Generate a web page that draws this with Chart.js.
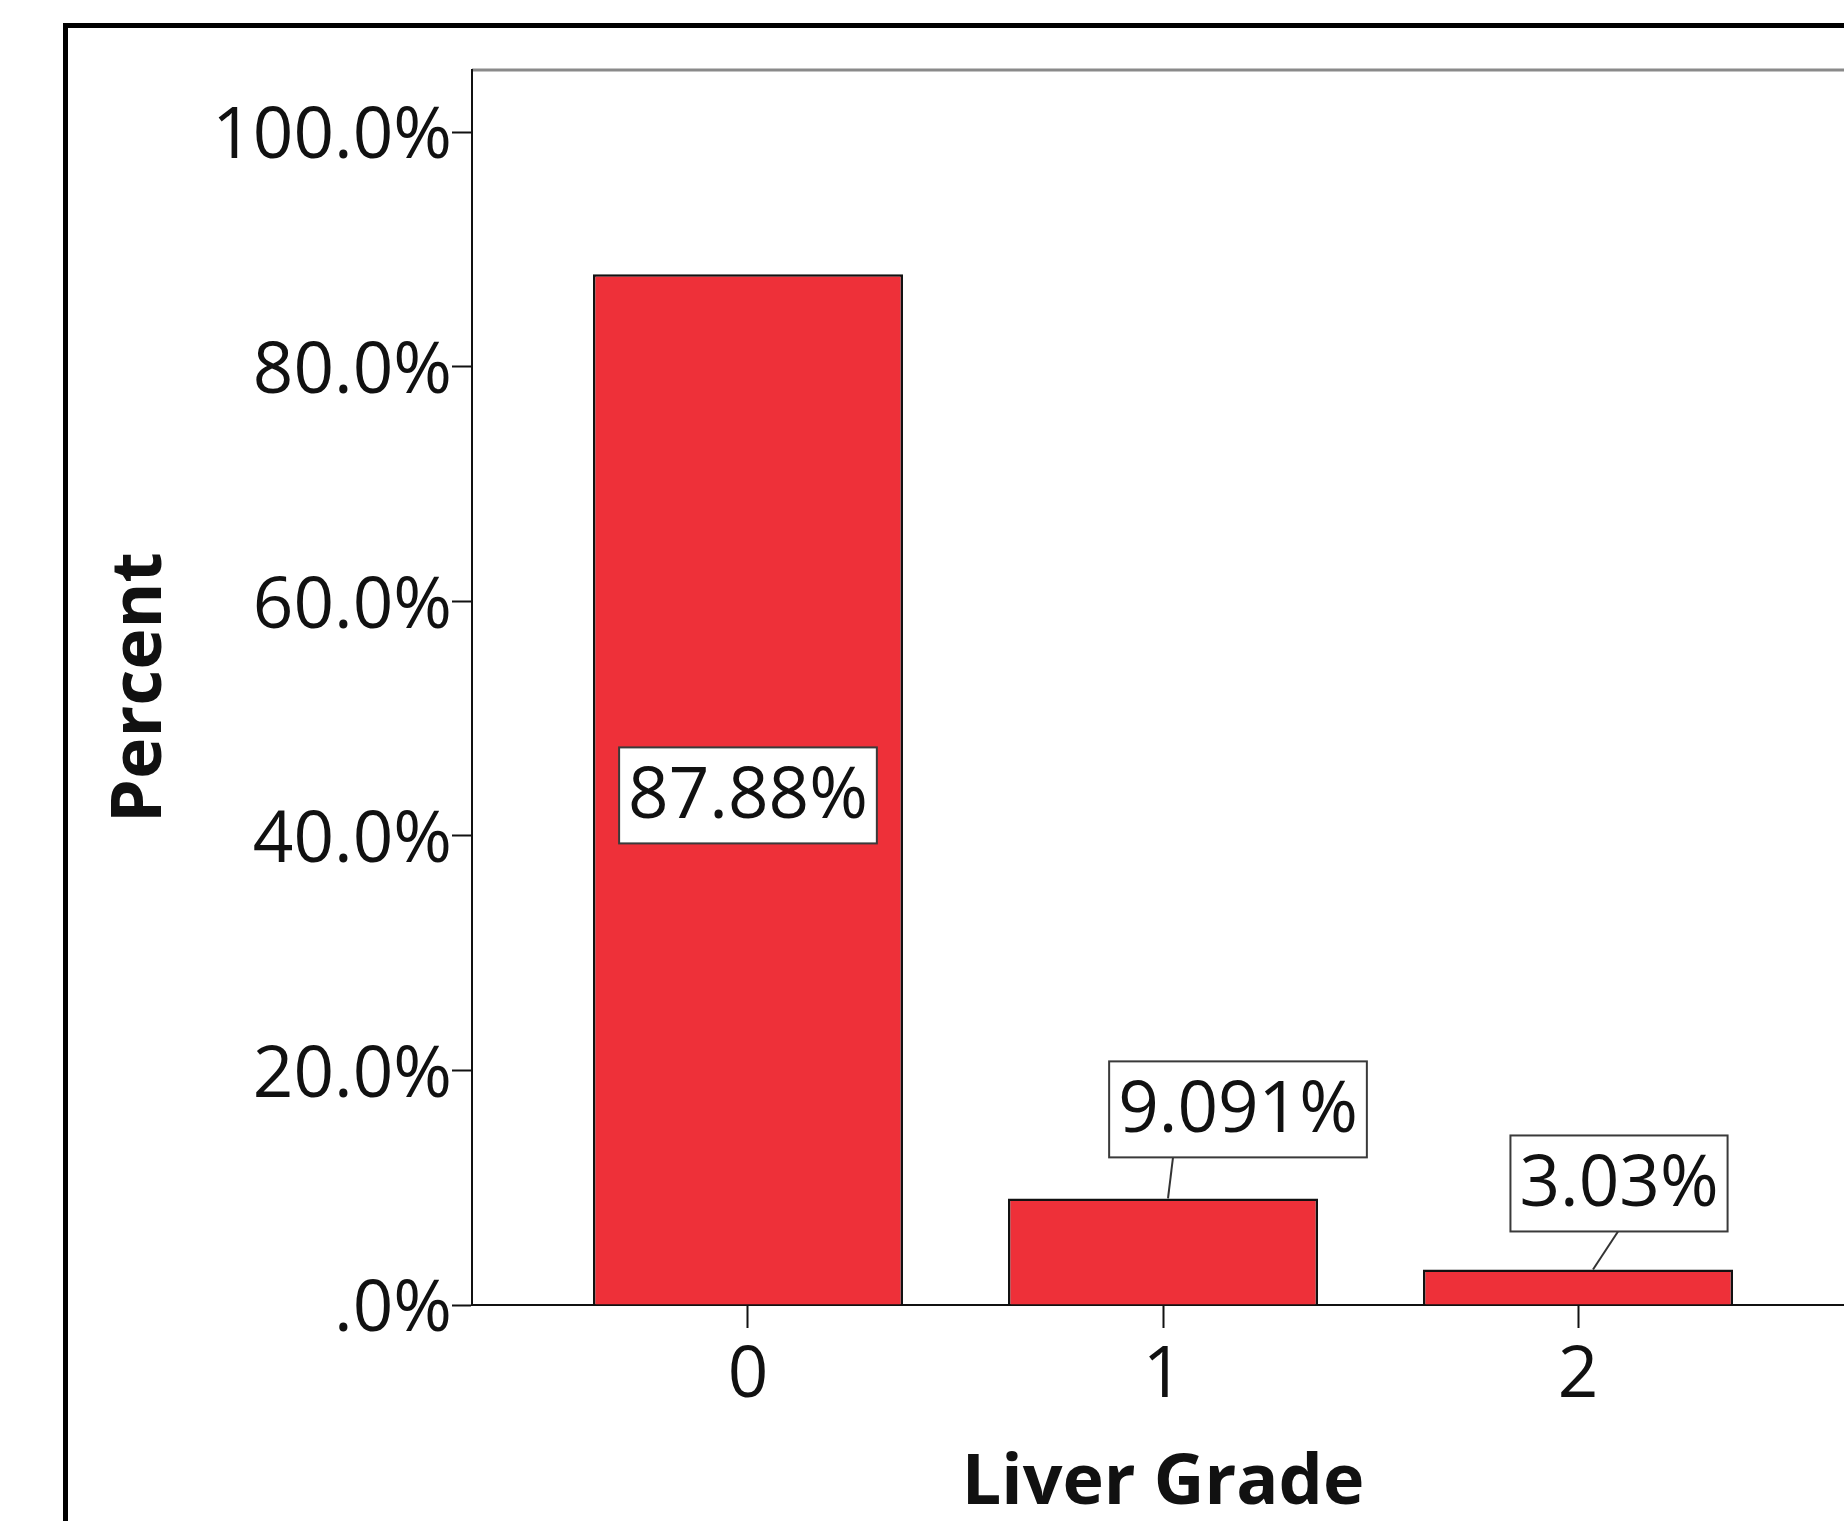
<!DOCTYPE html>
<html lang="en">
<head>
  <meta charset="UTF-8">
  <title>Liver Grade</title>
  <script src="https://cdn.jsdelivr.net/npm/chart.js"></script>
  <style>
    html, body { margin: 0; padding: 0; overflow: hidden; background: #fff; }
    #wrap { width: 1920px; height: 1521px; }
  </style>
</head>
<body>
  <div id="wrap"><canvas id="gradeChart"></canvas></div>
  <script>
    // data
    const grades = [0, 1, 2];
    const gradeLabels = ['0', '1', '2'];
    const percents = [87.88, 9.091, 3.03];
    const yTicks = [0, 20, 40, 60, 80, 100];
    const yTickLabels = ['.0%', '20.0%', '40.0%', '60.0%', '80.0%', '100.0%'];

    const pctLabels = percents.map(v => parseFloat(v.toPrecision(4)) + '%');
    const FONT = '"Open Sans", "Liberation Sans", sans-serif';

    // outer frame + grey top/right edge of plot area
    const frame = {
      id: 'frame',
      beforeDraw(chart) {
        const ctx = chart.ctx, a = chart.chartArea;
        ctx.save();
        ctx.fillStyle = '#fff';
        ctx.fillRect(0, 0, chart.width, chart.height);
        ctx.strokeStyle = '#000';
        ctx.lineWidth = 5;
        ctx.strokeRect(65.5, 25.5, 1830, 1600);
        ctx.strokeStyle = '#8a8a8a';
        ctx.lineWidth = 3;
        ctx.beginPath();
        ctx.moveTo(a.left, a.top);
        ctx.lineTo(a.right, a.top);
        ctx.lineTo(a.right, a.bottom);
        ctx.stroke();
        ctx.restore();
      }
    };

    // boxed value labels with leader lines
    const boxLabels = {
      id: 'boxLabels',
      afterDatasetsDraw(chart, args, opts) {
        const ctx = chart.ctx;
        const bars = chart.getDatasetMeta(0).data;
        ctx.save();
        ctx.font = '71px ' + FONT;
        ctx.textAlign = 'center';
        ctx.textBaseline = 'middle';
        bars.forEach((bar, i) => {
          const p = opts.place[i];
          const text = pctLabels[i];
          const w = ctx.measureText(text).width + 18;
          const h = 96;
          const cx = bar.x + p.dx;
          const cy = p.inside ? (bar.y + bar.base) / 2 + p.dy : bar.y + p.dy;
          if (!p.inside) {
            ctx.strokeStyle = '#333';
            ctx.lineWidth = 2;
            ctx.beginPath();
            ctx.moveTo(bar.x + p.from, cy + h / 2);
            ctx.lineTo(bar.x + p.to, bar.y);
            ctx.stroke();
          }
          ctx.fillStyle = '#fff';
          ctx.fillRect(cx - w / 2, cy - h / 2, w, h);
          ctx.strokeStyle = '#3a3a3a';
          ctx.lineWidth = 2;
          ctx.strokeRect(cx - w / 2, cy - h / 2, w, h);
          ctx.fillStyle = '#111';
          ctx.fillText(text, cx, cy + 2);
        });
        ctx.restore();
      }
    };

    const ctx = document.getElementById('gradeChart').getContext('2d');
    const gradeChart = new Chart(ctx, {
      type: 'bar',
      data: {
        datasets: [{
          label: 'Percent',
          data: grades.map((g, i) => ({ x: g, y: percents[i] })),
          backgroundColor: '#ee3039',
          borderColor: '#111',
          borderWidth: 2.5,
          barPercentage: 0.747,
          categoryPercentage: 1
        }]
      },
      options: {
        responsive: true,
        maintainAspectRatio: false,
        animation: false,
        layout: { padding: { left: 0, right: 66, top: 70, bottom: 0 } },
        plugins: {
          legend: { display: false },
          tooltip: { enabled: false },
          boxLabels: {
            place: [
              { inside: true, dx: 0, dy: 6 },
              { dx: 75, dy: -89, from: 10, to: 5 },
              { dx: 41, dy: -86, from: 40, to: 15 }
            ]
          }
        },
        scales: {
          x: {
            type: 'linear',
            min: -0.665,
            max: 2.665,
            offset: false,
            afterBuildTicks: s => { s.ticks = grades.map(v => ({ value: v })); },
            afterFit: s => { s.height = 216; },
            grid: { offset: false, drawOnChartArea: false, drawTicks: true, tickLength: 23, tickColor: '#111', tickWidth: 2 },
            border: { display: true, color: '#111', width: 2 },
            ticks: {
              callback: v => gradeLabels[grades.indexOf(v)],
              color: '#111',
              font: { family: FONT, size: 71 },
              padding: 6,
              maxRotation: 0,
              autoSkip: false
            },
            title: {
              display: true,
              text: 'Liver Grade',
              color: '#111',
              font: { family: FONT, size: 70, weight: 'bold' },
              padding: { top: 0, bottom: -5 }
            }
          },
          y: {
            min: 0,
            max: 105.3,
            afterBuildTicks: s => { s.ticks = yTicks.map(v => ({ value: v })); },
            afterFit: s => { s.width = 472; },
            grid: { drawOnChartArea: false, drawTicks: true, tickLength: 20, tickColor: '#111', tickWidth: 2 },
            border: { display: true, color: '#111', width: 2 },
            ticks: {
              callback: v => yTickLabels[yTicks.indexOf(v)],
              color: '#111',
              font: { family: FONT, size: 71 },
              padding: 0,
              labelOffset: 6
            },
            title: {
              display: true,
              text: 'Percent',
              color: '#111',
              font: { family: FONT, size: 70, weight: 'bold' },
              padding: { top: 99, bottom: 0 }
            }
          }
        }
      },
      plugins: [frame, boxLabels]
    });
  </script>
</body>
</html>
